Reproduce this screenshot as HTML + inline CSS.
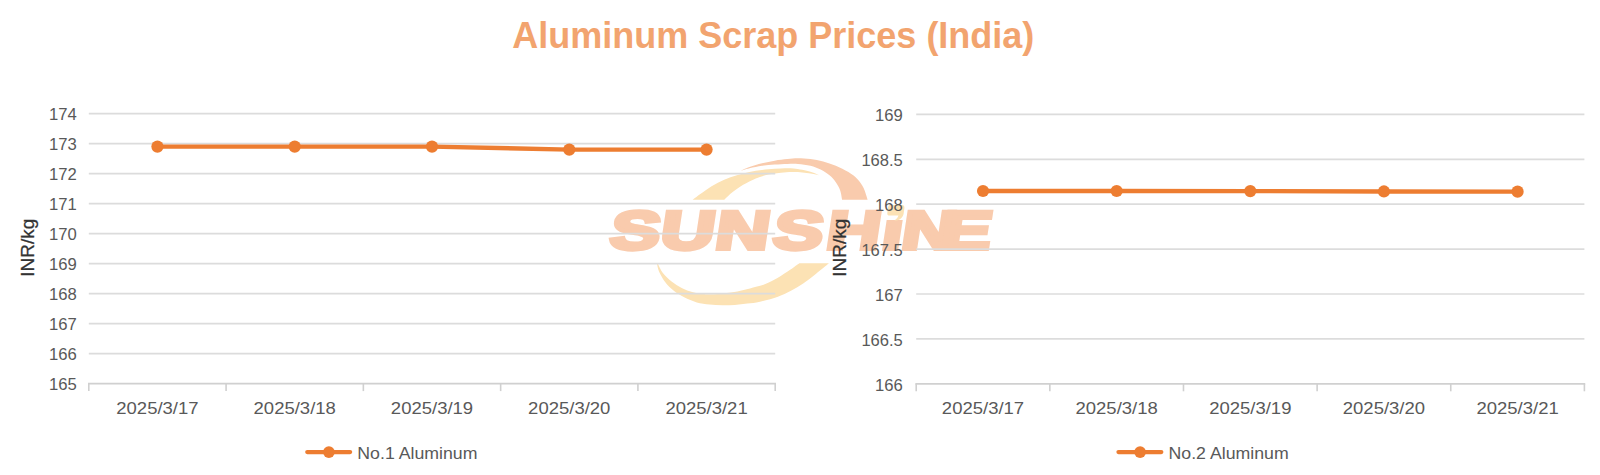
<!DOCTYPE html>
<html><head><meta charset="utf-8"><title>Aluminum Scrap Prices (India)</title>
<style>
html,body{margin:0;padding:0;background:#fff;}
body{width:1600px;height:475px;overflow:hidden;font-family:"Liberation Sans", sans-serif;}
svg{display:block;font-family:"Liberation Sans", sans-serif;}
</style></head><body>
<svg width="1600" height="475" viewBox="0 0 1600 475">
<rect width="1600" height="475" fill="#fff"/>
<text x="773.3" y="48.4" text-anchor="middle" font-size="36" font-weight="bold" fill="#F2A46F">Aluminum Scrap Prices (India)</text>
<g id="logo">
<path d="M692.6,199.7 C694.7,198.1 701.1,193.2 705.3,190.4 C709.5,187.6 713.7,185.0 717.9,182.8 C722.1,180.6 726.3,178.8 730.5,177.2 C734.7,175.6 739.0,174.5 743.2,173.4 C747.4,172.3 751.6,171.5 755.8,170.8 C760.0,170.1 764.2,169.7 768.4,169.3 C772.6,168.9 776.8,168.6 781.0,168.5 C785.2,168.4 788.8,168.1 793.7,168.6 C798.6,169.1 806.2,170.6 810.5,171.7 C814.8,172.8 817.9,174.7 819.4,175.3 L819.4,175.3 C817.9,175.0 814.8,174.0 810.5,173.4 C806.2,172.8 798.6,172.0 793.7,171.9 C788.8,171.8 785.2,172.2 781.0,172.7 C776.8,173.1 772.6,173.6 768.4,174.6 C764.2,175.6 760.0,176.7 755.8,178.4 C751.6,180.1 747.0,182.5 743.2,184.7 C739.4,186.9 736.2,189.2 733.0,191.7 C729.8,194.2 725.7,198.4 724.2,199.7 Z" fill="#FCE2B4"/>
<path d="M738.7,171.5 C740.5,170.8 745.6,168.4 749.5,167.0 C753.4,165.6 757.9,164.4 762.1,163.3 C766.3,162.2 770.5,161.4 774.7,160.7 C778.9,160.0 783.5,159.5 787.4,159.1 C791.3,158.7 794.0,158.3 797.9,158.3 C801.8,158.3 806.3,158.6 810.5,159.1 C814.7,159.6 819.0,160.5 823.2,161.6 C827.4,162.7 831.6,164.1 835.8,165.8 C840.0,167.6 844.8,169.9 848.4,172.1 C852.0,174.3 854.8,176.4 857.3,179.0 C859.8,181.6 861.9,184.5 863.6,187.9 C865.3,191.3 866.9,197.7 867.6,199.7 L842.1,199.7 C841.8,198.1 841.2,193.3 840.2,190.4 C839.2,187.5 837.6,184.7 835.8,182.2 C834.0,179.7 832.0,177.4 829.5,175.3 C827.0,173.2 823.8,171.2 820.6,169.6 C817.4,168.0 814.3,166.8 810.5,165.8 C806.7,164.9 801.8,164.2 797.9,163.9 C794.0,163.6 791.3,163.8 787.4,163.9 C783.5,164.0 778.9,164.2 774.7,164.5 C770.5,164.8 766.3,165.2 762.1,165.8 C757.9,166.4 753.4,167.4 749.5,168.3 C745.6,169.2 740.5,171.0 738.7,171.5 Z" fill="#F9CBAD"/>
<path d="M657.0,263.2 C657.3,264.6 657.6,268.2 659.0,271.4 C660.4,274.6 662.8,278.9 665.3,282.2 C667.8,285.5 671.0,288.5 674.1,291.0 C677.2,293.5 680.4,295.4 684.2,297.3 C688.0,299.2 692.6,301.2 696.8,302.4 C701.0,303.6 705.3,304.1 709.5,304.6 C713.7,305.1 717.9,305.2 722.1,305.3 C726.3,305.4 730.5,305.2 734.7,304.9 C738.9,304.6 743.2,304.1 747.4,303.6 C751.6,303.1 754.9,302.9 760.0,301.7 C765.1,300.5 772.8,298.5 777.9,296.7 C783.0,294.9 786.3,293.2 790.5,291.0 C794.7,288.8 799.0,286.2 803.2,283.4 C807.4,280.5 811.5,277.3 815.8,273.9 C820.1,270.5 826.8,265.0 829.0,263.2 L799.4,263.2 C797.9,264.2 794.1,267.1 790.5,269.5 C786.9,271.9 782.1,275.3 777.9,277.7 C773.7,280.1 768.9,282.5 765.3,284.0 C761.6,285.5 759.6,285.8 756.0,286.8 C752.4,287.8 747.8,289.1 743.6,290.1 C739.4,291.1 735.2,292.0 731.0,292.6 C726.8,293.2 722.5,293.6 718.3,293.9 C714.1,294.2 709.9,294.5 705.7,294.2 C701.5,293.9 697.0,293.3 693.0,292.3 C689.0,291.3 685.3,289.9 681.7,288.1 C678.1,286.3 674.8,284.1 671.6,281.5 C668.4,278.9 665.0,275.8 662.7,272.7 C660.4,269.6 658.5,264.8 657.7,263.2 Z" fill="#FCE2B4"/>
<defs><linearGradient id="ig" gradientUnits="userSpaceOnUse" x1="0" y1="-60" x2="0" y2="0"><stop offset="0" stop-color="#F9CBAD" stop-opacity="0"/><stop offset="0.52" stop-color="#F9CBAD" stop-opacity="0"/><stop offset="0.52" stop-color="#F9CBAD"/><stop offset="1" stop-color="#F9CBAD"/></linearGradient></defs>
<text transform="translate(0,249.15) skewX(-8.6) scale(1.38,1)" x="440.77 477.13 517.04 558.88 597.41 637.69 651.94 680.74" font-size="53.9" font-weight="bold" fill="#F9CBAD" stroke="#F9CBAD" stroke-width="4.2" stroke-linejoin="miter">SUNSH<tspan fill="url(#ig)" stroke="url(#ig)">i</tspan>NE</text>
<path d="M889.5,205 L902,205 Q904.6,205 904.4,208 L903.6,214 Q902.5,219 897,220.4 L894.5,220.4 Q898,218 898.5,215.6 L889.6,215.6 Q887,215.6 887.3,213 L888,207.5 Q888.3,205 889.5,205 Z" fill="#FCE2B4"/>
</g>

<line x1="88.8" y1="113.60" x2="775.2" y2="113.60" stroke="#DCDCDC" stroke-width="1.7"/>
<text x="76.8" y="120.40" text-anchor="end" font-size="16.7" fill="#595959" textLength="27.8" lengthAdjust="spacingAndGlyphs">174</text>
<line x1="88.8" y1="143.60" x2="775.2" y2="143.60" stroke="#DCDCDC" stroke-width="1.7"/>
<text x="76.8" y="150.40" text-anchor="end" font-size="16.7" fill="#595959" textLength="27.8" lengthAdjust="spacingAndGlyphs">173</text>
<line x1="88.8" y1="173.60" x2="775.2" y2="173.60" stroke="#DCDCDC" stroke-width="1.7"/>
<text x="76.8" y="180.40" text-anchor="end" font-size="16.7" fill="#595959" textLength="27.8" lengthAdjust="spacingAndGlyphs">172</text>
<line x1="88.8" y1="203.60" x2="775.2" y2="203.60" stroke="#DCDCDC" stroke-width="1.7"/>
<text x="76.8" y="210.40" text-anchor="end" font-size="16.7" fill="#595959" textLength="27.8" lengthAdjust="spacingAndGlyphs">171</text>
<line x1="88.8" y1="233.60" x2="775.2" y2="233.60" stroke="#DCDCDC" stroke-width="1.7"/>
<text x="76.8" y="240.40" text-anchor="end" font-size="16.7" fill="#595959" textLength="27.8" lengthAdjust="spacingAndGlyphs">170</text>
<line x1="88.8" y1="263.60" x2="775.2" y2="263.60" stroke="#DCDCDC" stroke-width="1.7"/>
<text x="76.8" y="270.40" text-anchor="end" font-size="16.7" fill="#595959" textLength="27.8" lengthAdjust="spacingAndGlyphs">169</text>
<line x1="88.8" y1="293.60" x2="775.2" y2="293.60" stroke="#DCDCDC" stroke-width="1.7"/>
<text x="76.8" y="300.40" text-anchor="end" font-size="16.7" fill="#595959" textLength="27.8" lengthAdjust="spacingAndGlyphs">168</text>
<line x1="88.8" y1="323.60" x2="775.2" y2="323.60" stroke="#DCDCDC" stroke-width="1.7"/>
<text x="76.8" y="330.40" text-anchor="end" font-size="16.7" fill="#595959" textLength="27.8" lengthAdjust="spacingAndGlyphs">167</text>
<line x1="88.8" y1="353.60" x2="775.2" y2="353.60" stroke="#DCDCDC" stroke-width="1.7"/>
<text x="76.8" y="360.40" text-anchor="end" font-size="16.7" fill="#595959" textLength="27.8" lengthAdjust="spacingAndGlyphs">166</text>
<text x="76.8" y="390.40" text-anchor="end" font-size="16.7" fill="#595959" textLength="27.8" lengthAdjust="spacingAndGlyphs">165</text>
<line x1="88.0" y1="383.60" x2="776.0" y2="383.60" stroke="#D0D0D0" stroke-width="1.7"/>
<line x1="88.80" y1="383.60" x2="88.80" y2="391.10" stroke="#D0D0D0" stroke-width="1.6"/>
<line x1="226.08" y1="383.60" x2="226.08" y2="391.10" stroke="#D0D0D0" stroke-width="1.6"/>
<line x1="363.36" y1="383.60" x2="363.36" y2="391.10" stroke="#D0D0D0" stroke-width="1.6"/>
<line x1="500.64" y1="383.60" x2="500.64" y2="391.10" stroke="#D0D0D0" stroke-width="1.6"/>
<line x1="637.92" y1="383.60" x2="637.92" y2="391.10" stroke="#D0D0D0" stroke-width="1.6"/>
<line x1="775.20" y1="383.60" x2="775.20" y2="391.10" stroke="#D0D0D0" stroke-width="1.6"/>
<text x="157.44" y="413.80" text-anchor="middle" font-size="16.7" fill="#595959" textLength="82.3" lengthAdjust="spacingAndGlyphs">2025/3/17</text>
<text x="294.72" y="413.80" text-anchor="middle" font-size="16.7" fill="#595959" textLength="82.3" lengthAdjust="spacingAndGlyphs">2025/3/18</text>
<text x="432.00" y="413.80" text-anchor="middle" font-size="16.7" fill="#595959" textLength="82.3" lengthAdjust="spacingAndGlyphs">2025/3/19</text>
<text x="569.28" y="413.80" text-anchor="middle" font-size="16.7" fill="#595959" textLength="82.3" lengthAdjust="spacingAndGlyphs">2025/3/20</text>
<text x="706.56" y="413.80" text-anchor="middle" font-size="16.7" fill="#595959" textLength="82.3" lengthAdjust="spacingAndGlyphs">2025/3/21</text>
<polyline fill="none" stroke="#ED7D31" stroke-width="4.4" stroke-linejoin="round" stroke-linecap="round" points="157.44,146.60 294.72,146.60 432.00,146.60 569.28,149.60 706.56,149.60"/>
<circle cx="157.44" cy="146.60" r="6.1" fill="#ED7D31"/>
<circle cx="294.72" cy="146.60" r="6.1" fill="#ED7D31"/>
<circle cx="432.00" cy="146.60" r="6.1" fill="#ED7D31"/>
<circle cx="569.28" cy="149.60" r="6.1" fill="#ED7D31"/>
<circle cx="706.56" cy="149.60" r="6.1" fill="#ED7D31"/>
<line x1="307.3" y1="452.1" x2="350.1" y2="452.1" stroke="#ED7D31" stroke-width="4.3" stroke-linecap="round"/>
<circle cx="328.90000000000003" cy="452.1" r="5.9" fill="#ED7D31"/>
<text x="357.3" y="458.8" font-size="16.7" fill="#595959" textLength="120.2" lengthAdjust="spacingAndGlyphs">No.1 Aluminum</text>
<text transform="translate(34,276.8) rotate(-90)" font-size="17.8" fill="#333" stroke="#333" stroke-width="0.25" textLength="58" lengthAdjust="spacingAndGlyphs">INR/kg</text>
<line x1="916.2" y1="114.40" x2="1584.4" y2="114.40" stroke="#DCDCDC" stroke-width="1.7"/>
<text x="902.8" y="121.20" text-anchor="end" font-size="16.7" fill="#595959" textLength="27.8" lengthAdjust="spacingAndGlyphs">169</text>
<line x1="916.2" y1="159.30" x2="1584.4" y2="159.30" stroke="#DCDCDC" stroke-width="1.7"/>
<text x="902.8" y="166.10" text-anchor="end" font-size="16.7" fill="#595959" textLength="41.4" lengthAdjust="spacingAndGlyphs">168.5</text>
<line x1="916.2" y1="204.20" x2="1584.4" y2="204.20" stroke="#DCDCDC" stroke-width="1.7"/>
<text x="902.8" y="211.00" text-anchor="end" font-size="16.7" fill="#595959" textLength="27.8" lengthAdjust="spacingAndGlyphs">168</text>
<line x1="916.2" y1="249.10" x2="1584.4" y2="249.10" stroke="#DCDCDC" stroke-width="1.7"/>
<text x="902.8" y="255.90" text-anchor="end" font-size="16.7" fill="#595959" textLength="41.4" lengthAdjust="spacingAndGlyphs">167.5</text>
<line x1="916.2" y1="294.00" x2="1584.4" y2="294.00" stroke="#DCDCDC" stroke-width="1.7"/>
<text x="902.8" y="300.80" text-anchor="end" font-size="16.7" fill="#595959" textLength="27.8" lengthAdjust="spacingAndGlyphs">167</text>
<line x1="916.2" y1="338.90" x2="1584.4" y2="338.90" stroke="#DCDCDC" stroke-width="1.7"/>
<text x="902.8" y="345.70" text-anchor="end" font-size="16.7" fill="#595959" textLength="41.4" lengthAdjust="spacingAndGlyphs">166.5</text>
<text x="902.8" y="390.60" text-anchor="end" font-size="16.7" fill="#595959" textLength="27.8" lengthAdjust="spacingAndGlyphs">166</text>
<line x1="915.4000000000001" y1="383.80" x2="1585.2" y2="383.80" stroke="#D0D0D0" stroke-width="1.7"/>
<line x1="916.20" y1="383.80" x2="916.20" y2="391.30" stroke="#D0D0D0" stroke-width="1.6"/>
<line x1="1049.84" y1="383.80" x2="1049.84" y2="391.30" stroke="#D0D0D0" stroke-width="1.6"/>
<line x1="1183.48" y1="383.80" x2="1183.48" y2="391.30" stroke="#D0D0D0" stroke-width="1.6"/>
<line x1="1317.12" y1="383.80" x2="1317.12" y2="391.30" stroke="#D0D0D0" stroke-width="1.6"/>
<line x1="1450.76" y1="383.80" x2="1450.76" y2="391.30" stroke="#D0D0D0" stroke-width="1.6"/>
<line x1="1584.40" y1="383.80" x2="1584.40" y2="391.30" stroke="#D0D0D0" stroke-width="1.6"/>
<text x="983.02" y="414.00" text-anchor="middle" font-size="16.7" fill="#595959" textLength="82.3" lengthAdjust="spacingAndGlyphs">2025/3/17</text>
<text x="1116.66" y="414.00" text-anchor="middle" font-size="16.7" fill="#595959" textLength="82.3" lengthAdjust="spacingAndGlyphs">2025/3/18</text>
<text x="1250.30" y="414.00" text-anchor="middle" font-size="16.7" fill="#595959" textLength="82.3" lengthAdjust="spacingAndGlyphs">2025/3/19</text>
<text x="1383.94" y="414.00" text-anchor="middle" font-size="16.7" fill="#595959" textLength="82.3" lengthAdjust="spacingAndGlyphs">2025/3/20</text>
<text x="1517.58" y="414.00" text-anchor="middle" font-size="16.7" fill="#595959" textLength="82.3" lengthAdjust="spacingAndGlyphs">2025/3/21</text>
<polyline fill="none" stroke="#ED7D31" stroke-width="4.4" stroke-linejoin="round" stroke-linecap="round" points="983.02,191.00 1116.66,191.00 1250.30,191.09 1383.94,191.45 1517.58,191.63"/>
<circle cx="983.02" cy="191.00" r="6.1" fill="#ED7D31"/>
<circle cx="1116.66" cy="191.00" r="6.1" fill="#ED7D31"/>
<circle cx="1250.30" cy="191.09" r="6.1" fill="#ED7D31"/>
<circle cx="1383.94" cy="191.45" r="6.1" fill="#ED7D31"/>
<circle cx="1517.58" cy="191.63" r="6.1" fill="#ED7D31"/>
<line x1="1118.5" y1="452.1" x2="1161.3" y2="452.1" stroke="#ED7D31" stroke-width="4.3" stroke-linecap="round"/>
<circle cx="1140.1" cy="452.1" r="5.9" fill="#ED7D31"/>
<text x="1168.5" y="458.8" font-size="16.7" fill="#595959" textLength="120.2" lengthAdjust="spacingAndGlyphs">No.2 Aluminum</text>
<text transform="translate(846,276.8) rotate(-90)" font-size="17.8" fill="#333" stroke="#333" stroke-width="0.25" textLength="58" lengthAdjust="spacingAndGlyphs">INR/kg</text>
</svg>
</body></html>
